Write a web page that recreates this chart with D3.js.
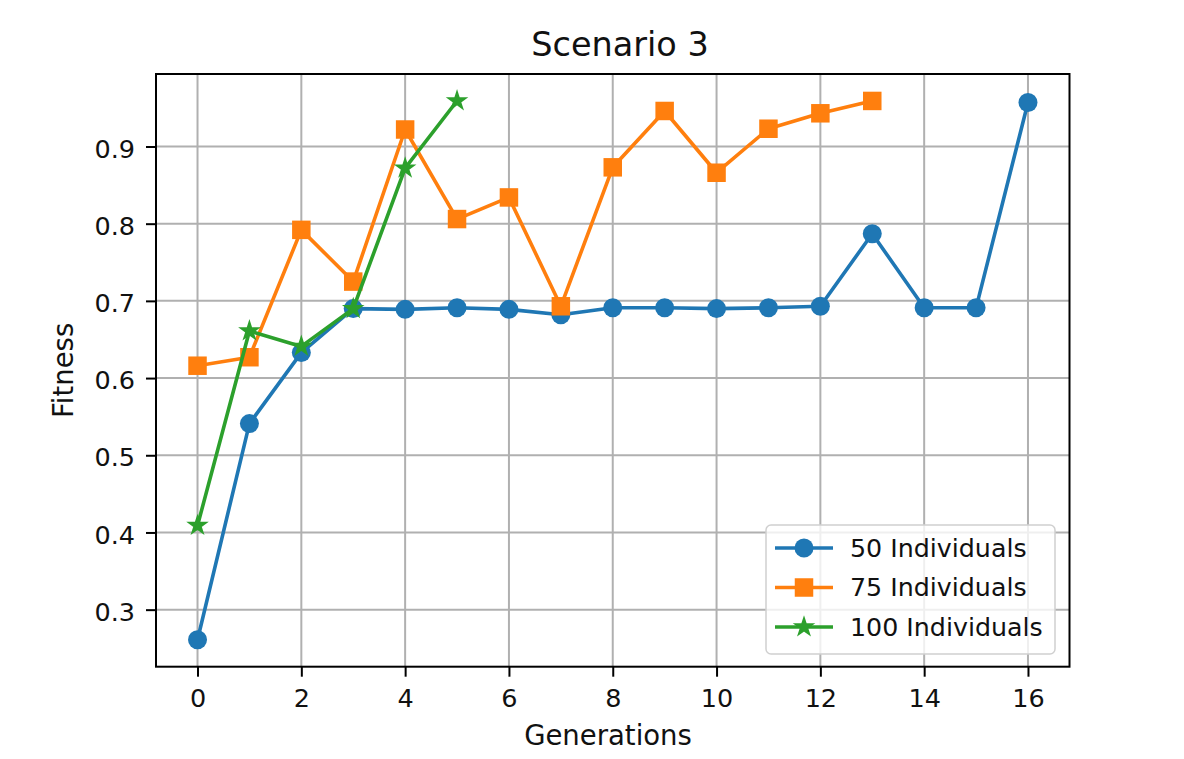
<!DOCTYPE html>
<html>
<head>
<meta charset="utf-8">
<script src="https://cdn.jsdelivr.net/npm/d3@7"></script>
<style>
  html, body { margin: 0; padding: 0; background: #fff; }
  svg { display: block; font-family: "DejaVu Sans", sans-serif; }
</style>
</head>
<body>
<svg id="chart" width="1184" height="759"></svg>
<script>
// Generations on the x axis
const generations = d3.range(0, 17);

// Best fitness per generation for each population size
const fitness50  = [0.261, 0.541, 0.633, 0.690, 0.689, 0.691, 0.689, 0.682, 0.691, 0.691, 0.690, 0.691, 0.693, 0.787, 0.691, 0.691, 0.957];
const fitness75  = [0.616, 0.627, 0.792, 0.725, 0.922, 0.806, 0.834, 0.693, 0.873, 0.946, 0.866, 0.923, 0.943, 0.959];
const fitness100 = [0.409, 0.661, 0.641, 0.690, 0.872, 0.959];

const seriesNames = ["50 Individuals", "75 Individuals", "100 Individuals"];
const xTicks = [0, 2, 4, 6, 8, 10, 12, 14, 16];
const yTicks = [0.3, 0.4, 0.5, 0.6, 0.7, 0.8, 0.9];

const series = [
  { name: seriesNames[0], values: fitness50,  color: "#1f77b4", marker: "circle" },
  { name: seriesNames[1], values: fitness75,  color: "#ff7f0e", marker: "square" },
  { name: seriesNames[2], values: fitness100, color: "#2ca02c", marker: "star" }
];

const svg = d3.select("#chart");
const plot = { left: 156, right: 1069.5, top: 74, bottom: 666.7 };

// Matplotlib-style 5% padding around the data range
const xMax = d3.max(series, s => s.values.length - 1);
const allY = series.flatMap(s => s.values);
const [yLo, yHi] = d3.extent(allY);
const xPad = xMax * 0.05, yPad = (yHi - yLo) * 0.05;

const x = d3.scaleLinear().domain([-xPad, xMax + xPad]).range([plot.left, plot.right]);
const y = d3.scaleLinear().domain([yLo - yPad, yHi + yPad]).range([plot.bottom, plot.top]);

// Grid
const grid = svg.append("g");
grid.selectAll("line.vx").data(xTicks).join("line")
  .attr("x1", d => x(d)).attr("x2", d => x(d))
  .attr("y1", plot.top).attr("y2", plot.bottom)
  .attr("stroke", "#b0b0b0").attr("stroke-width", 2);
grid.selectAll("line.hy").data(yTicks).join("line")
  .attr("y1", d => y(d)).attr("y2", d => y(d))
  .attr("x1", plot.left).attr("x2", plot.right)
  .attr("stroke", "#b0b0b0").attr("stroke-width", 2);

// Axes
const xAxis = d3.axisBottom(x).tickValues(xTicks).tickSize(10).tickPadding(11.5).tickFormat(d3.format("d"));
const yAxis = d3.axisLeft(y).tickValues(yTicks).tickSize(10).tickPadding(11).tickFormat(d3.format(".1f"));

const gx = svg.append("g").attr("transform", `translate(0,${plot.bottom})`).call(xAxis);
const gy = svg.append("g").attr("transform", `translate(${plot.left},0)`).call(yAxis);
[gx, gy].forEach(g => {
  g.select(".domain").remove();
  g.selectAll(".tick line").attr("stroke", "#000").attr("stroke-width", 2);
  g.selectAll(".tick text").attr("fill", "#111").style("font-size", "25.5px")
    .style("font-family", "DejaVu Sans, sans-serif");
});
gx.selectAll(".tick text").attr("dy", "0.73em");
gy.selectAll(".tick text").attr("dy", "0.42em");

// Series lines and markers
const line = d3.line().x((d, i) => x(i)).y(d => y(d));
const symbolFor = {
  circle: d3.symbol(d3.symbolCircle, Math.PI * 9.5 * 9.5),
  square: d3.symbol(d3.symbolSquare, 18.5 * 18.5),
  star:   d3.symbol(d3.symbolStar, 90)
};

series.forEach(s => {
  const g = svg.append("g");
  g.append("path").datum(s.values)
    .attr("d", line).attr("fill", "none")
    .attr("stroke", s.color).attr("stroke-width", 3.6)
    .attr("stroke-linejoin", "round").attr("stroke-linecap", "square");
  g.selectAll("path.m").data(s.values).join("path")
    .attr("class", "m")
    .attr("transform", (d, i) => `translate(${x(i)},${y(d)})`)
    .attr("d", symbolFor[s.marker]())
    .attr("fill", s.color)
    .attr("stroke", s.color).attr("stroke-width", s.marker === "star" ? 1.8 : 0);
});

// Frame
svg.append("rect")
  .attr("x", plot.left).attr("y", plot.top)
  .attr("width", plot.right - plot.left).attr("height", plot.bottom - plot.top)
  .attr("fill", "none").attr("stroke", "#000").attr("stroke-width", 2);

// Title and axis labels
svg.append("text").attr("x", 620).attr("y", 56)
  .attr("text-anchor", "middle").style("font-size", "33.5px").attr("fill", "#111")
  .text("Scenario 3");
svg.append("text").attr("x", 608).attr("y", 745)
  .attr("text-anchor", "middle").style("font-size", "27.5px").attr("fill", "#111")
  .text("Generations");
svg.append("text")
  .attr("transform", `translate(73,${(plot.top + plot.bottom) / 2}) rotate(-90)`)
  .attr("text-anchor", "middle").style("font-size", "27.5px").attr("fill", "#111")
  .text("Fitness");

// Legend
const legend = svg.append("g");
legend.append("rect")
  .attr("x", 766).attr("y", 525).attr("width", 289).attr("height", 129)
  .attr("rx", 5).attr("ry", 5)
  .attr("fill", "rgba(255,255,255,0.8)").attr("stroke", "#d0d0d0").attr("stroke-width", 1.5);

const rows = legend.selectAll("g.row").data(series).join("g")
  .attr("transform", (d, i) => `translate(0,${548 + i * 39.5})`);
rows.append("line").attr("x1", 775).attr("x2", 833).attr("y1", 0).attr("y2", 0)
  .attr("stroke", d => d.color).attr("stroke-width", 3.6);
rows.append("path")
  .attr("transform", "translate(804,0)")
  .attr("d", d => symbolFor[d.marker]())
  .attr("fill", d => d.color)
  .attr("stroke", d => d.color).attr("stroke-width", d => d.marker === "star" ? 1.8 : 0);
rows.append("text").attr("x", 850).attr("y", 0).attr("dy", "0.35em")
  .style("font-size", "25.3px").attr("fill", "#111")
  .text(d => d.name);
</script>
</body>
</html>
